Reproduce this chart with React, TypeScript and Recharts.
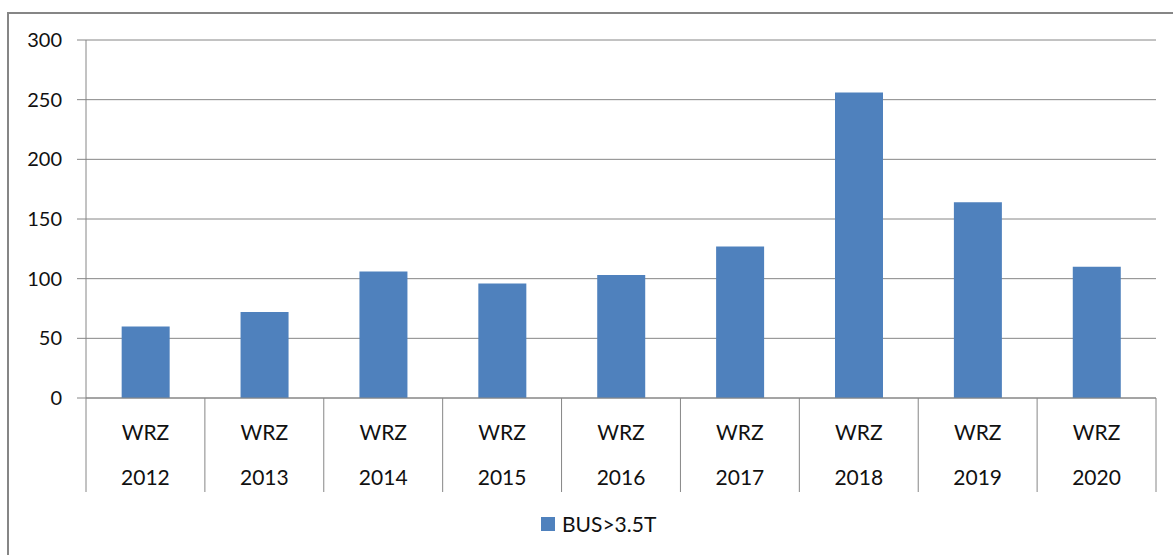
import { BarChart, Bar, XAxis, YAxis, CartesianGrid, Legend } from "recharts";

const years = ["2012", "2013", "2014", "2015", "2016", "2017", "2018", "2019", "2020"];
const regions = ["WRZ", "WRZ", "WRZ", "WRZ", "WRZ", "WRZ", "WRZ", "WRZ", "WRZ"];
const busValues = [60, 72, 106, 96, 103, 127, 256, 164, 110];
const yTicks = [0, 50, 100, 150, 200, 250, 300];

const data = years.map((year, i) => ({
  key: `${regions[i]} ${year}`,
  region: regions[i],
  year,
  bus: busValues[i],
}));

const W = 1173;
const H = 555;
const margin = { top: 40, right: 17, left: 0, bottom: 17 };
const yAxisWidth = 86;
const band = (W - margin.left - margin.right - yAxisWidth) / data.length;
const FONT = "Lato, 'DejaVu Sans', sans-serif";
const GRAY = "#868686";
const BLUE = "#4F81BD";

function CategoryTick(props: any) {
  const { x, y, index } = props;
  const row = data[index];
  const last = index === data.length - 1;
  return (
    <g>
      <line x1={x - band / 2} y1={y} x2={x - band / 2} y2={y + 94} stroke={GRAY} />
      {last && <line x1={x + band / 2} y1={y} x2={x + band / 2} y2={y + 94} stroke={GRAY} />}
      <text x={x} y={y + 33} textAnchor="middle" dominantBaseline="central" fontSize={21} fontFamily={FONT} fill="#111">
        {row.region}
      </text>
      <text x={x} y={y + 78} textAnchor="middle" dominantBaseline="central" fontSize={21} fontFamily={FONT} fill="#111">
        {row.year}
      </text>
    </g>
  );
}

function LegendBox() {
  return (
    <div style={{ display: "flex", alignItems: "center", fontFamily: FONT, fontSize: 21, color: "#111" }}>
      <span style={{ width: 14, height: 14, background: BLUE, display: "inline-block", marginRight: 7 }} />
      <span>BUS&gt;3.5T</span>
    </div>
  );
}

export default function App() {
  return (
    <div style={{ position: "fixed", left: 0, top: 0, width: W, height: H, overflow: "hidden", background: "#fff" }}>
      <div
        style={{
          position: "absolute",
          left: 7,
          top: 12,
          width: 1200,
          height: 600,
          border: `2px solid ${GRAY}`,
        }}
      />
      <div style={{ position: "absolute", left: 0, top: 0 }}>
        <BarChart width={W} height={H} data={data} margin={margin} barCategoryGap="30%">
          <CartesianGrid vertical={false} stroke={GRAY} strokeOpacity={1} />
          <XAxis
            dataKey="key"
            interval={0}
            height={110}
            axisLine={{ stroke: GRAY }}
            tickLine={false}
            tickSize={0}
            tickMargin={0}
            tick={<CategoryTick />}
          />
          <YAxis
            width={yAxisWidth}
            domain={[0, 300]}
            ticks={yTicks}
            interval={0}
            axisLine={{ stroke: GRAY }}
            tickLine={{ stroke: GRAY }}
            tickSize={9}
            tickMargin={15}
            tick={{ fontSize: 20, fontFamily: FONT, fill: "#111" }}
          />
          <Legend
            verticalAlign="bottom"
            content={<LegendBox />}
            wrapperStyle={{ left: 541, top: 511, width: 200, height: 30 }}
          />
          <Bar dataKey="bus" name="BUS>3.5T" fill={BLUE} isAnimationActive={false} />
        </BarChart>
      </div>
    </div>
  );
}
